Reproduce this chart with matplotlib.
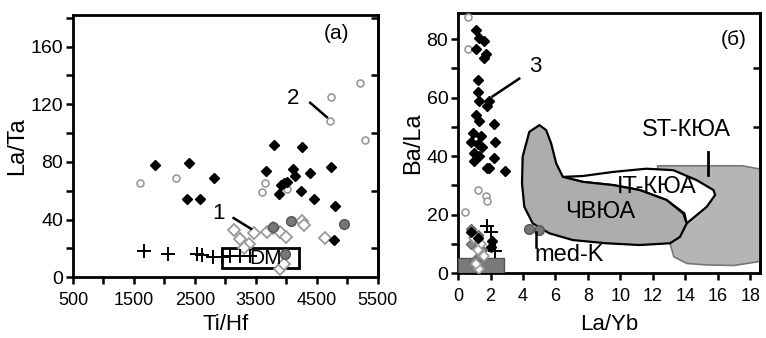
import matplotlib
matplotlib.use("Agg")
from matplotlib import pyplot as plt
from matplotlib.patches import Polygon, Rectangle
from matplotlib.ticker import MultipleLocator

plt.rcParams['font.family'] = ['Liberation Sans', 'DejaVu Sans']

## (a) Ti/Hf - La/Ta
a_black_x = [1850, 2396, 2369, 2587, 2806, 3669, 3789, 4254, 4735, 4106, 4144, 4379, 3953, 3909, 4008, 3871, 4237, 4445, 4800, 4773]
a_black_y = [78, 79.5, 54.5, 54.5, 69, 74, 92, 90, 76.5, 75, 70, 72, 65, 64, 66, 58, 60, 54.5, 49.4, 25.5]
a_gray_x = [3778, 4079, 4937, 3970]
a_gray_y = [35, 38.7, 37, 16]
a_open_x = [3134, 3243, 3462, 3380, 3680, 3899, 3997, 4254, 4281, 4636, 3888, 3953, 3300, 3780]
a_open_y = [32.5, 26.7, 30.6, 23, 31, 31, 28, 39, 36, 27, 5.8, 9, 20, 34]
a_small_x = [1604, 2194, 3653, 3598, 4008, 4735, 4708, 5199, 5292]
a_small_y = [65, 69, 65, 59, 61, 125, 108.5, 135, 95]
a_cross_x = [1669, 2057, 2533, 2615, 2790, 2943, 3079, 3243, 3407]
a_cross_y = [18, 15.8, 15.8, 15.5, 14, 14, 14.5, 14.4, 15]
a_xticks = [500, 1500, 2500, 3500, 4500, 5500]
dm_box = (2942, 6.5, 4210, 20.4)

## (б) La/Yb - Ba/La
b_black_x = [1.1, 1.3, 1.6, 1.1, 1.7, 1.6, 1.2, 1.2, 1.3, 1.9, 1.8, 1.1, 1.3, 2.2, 0.9, 1.4, 2.3, 0.8,
             1.2, 1.5, 1.0, 1.3, 2.2, 1.0, 1.8, 1.9, 2.9, 1.2, 2.1, 2.0, 0.8]
b_black_y = [83, 80.5, 79.5, 76.5, 75, 73.5, 66, 62, 59, 59, 57, 54, 52, 51, 48, 47, 45, 45,
             44, 43, 41, 40, 39.5, 38.5, 36, 36, 35, 12, 11, 9, 14]
b_small_x = [0.6, 0.6, 1.2, 1.7, 1.8, 0.45]
b_small_y = [87.7, 76.6, 28.5, 26.2, 24.7, 21]
b_gray_x = [0.8, 1.2, 0.8, 1.5, 1.3, 1.0]
b_gray_y = [15, 13, 10, 8, 6, 4]
b_open_x = [1.0, 1.4, 1.2, 1.6, 1.3, 1.1]
b_open_y = [12, 10, 8, 6, 1.5, 3]
b_cross_x = [1.8, 2.0, 2.3]
b_cross_y = [16, 14, 7.4]
b_circ_x = [4.35, 4.97]
b_circ_y = [15, 14.6]
low_box = (0, 0, 2.85, 5)

st_kyoa = [(12.3, 36.7), (17.5, 36.7), (19.2, 35), (19.5, 20), (19.2, 4.5), (17, 2.6), (15.3, 2.8),
           (14.1, 3.3), (13.3, 5.6), (13.06, 10.2), (12.3, 20)]
it_kyoa = [(6.46, 32.9), (7.69, 33.2), (9.55, 34.6), (11.6, 35.7), (13.26, 35.2), (14.7, 31.8),
           (15.74, 28.4), (15.84, 26.7), (15.33, 22.7), (14.7, 19.8), (14.09, 17),
           (13.95, 20.4), (12.85, 25), (11.2, 28.4), (9.55, 30.1), (7.69, 31.2)]
chvyua = [(3.98, 39.8), (4.39, 48.3), (5.01, 50.6), (5.43, 48.9), (5.74, 44.3), (6.05, 37.5),
          (6.46, 32.9), (7.69, 31.2), (9.55, 30.1), (11.2, 28.4), (12.85, 25), (13.88, 20.4),
          (14.09, 17), (13.68, 12.4), (13.06, 10.2), (11.2, 9.6), (9.14, 10.2), (7.07, 11.3),
          (5.63, 13.6), (4.6, 17), (4.08, 22.7), (3.94, 30.7)]

fig = plt.figure(figsize=(7.66, 3.38), dpi=100)
ax1 = fig.add_axes([0.0953, 0.180, 0.398, 0.776])
ax2 = fig.add_axes([0.598, 0.192, 0.394, 0.770])

for ax in (ax1, ax2):
    for s in ax.spines.values():
        s.set_linewidth(2)
    ax.tick_params(axis='both', which='both', direction='out', width=1.8, length=5, top=False)
    ax.tick_params(axis='y', labelsize=14, pad=2)
    ax.tick_params(axis='x', labelsize=13, pad=6)

# (a)
ax1.plot(a_small_x, a_small_y, 'o', ms=5, mfc='white', mec='#999999', mew=1.2)
ax1.plot(a_open_x, a_open_y, 'D', ms=6, mfc='white', mec='#999999', mew=1.3)
ax1.plot(a_black_x, a_black_y, 'D', ms=5.5, color='black')
ax1.plot(a_gray_x, a_gray_y, 'o', ms=7, mfc='#777777', mec='#555555')
ax1.plot(a_cross_x, a_cross_y, '+', ms=10, mew=1.4, color='black')
ax1.add_patch(Rectangle((dm_box[0], dm_box[1]), dm_box[2] - dm_box[0], dm_box[3] - dm_box[1],
                        fill=False, lw=2, ec='black'))
ax1.text(3653, 12.7, 'DM', fontsize=15, ha='center', va='center')
ax1.text(2888, 44, '1', fontsize=16, ha='center', va='center')
ax1.plot([3134, 3418], [41, 33.6], color='black', lw=1.8)
ax1.text(4117, 124, '2', fontsize=16, ha='center', va='center')
ax1.plot([4390, 4664], [121, 111], color='black', lw=1.8)
ax1.text(4828, 169, '(a)', fontsize=15, ha='center', va='center')
ax1.set_xlim(500, 5500)
ax1.set_ylim(0, 182)
ax1.set_xticks(a_xticks)
ax1.xaxis.set_minor_locator(MultipleLocator(500))
ax1.yaxis.set_major_locator(MultipleLocator(40))
ax1.yaxis.set_minor_locator(MultipleLocator(20))
ax1.set_xlabel('Ti/Hf', fontsize=16, labelpad=3)
ax1.set_ylabel('La/Ta', fontsize=17, labelpad=2)

# (б)
ax2.add_patch(Polygon(st_kyoa, closed=True, fc='#b5b5b5', ec='#777777', lw=1.2, zorder=1))
ax2.add_patch(Polygon(it_kyoa, closed=True, fc='white', ec='black', lw=1.6, zorder=2))
ax2.add_patch(Polygon(chvyua, closed=True, fc='#adadad', ec='black', lw=1.6, zorder=3))
ax2.add_patch(Rectangle((low_box[0], low_box[1]), low_box[2], low_box[3], fc='#7a7a7a',
                        ec='#555555', lw=1, zorder=3))
ax2.plot(b_small_x, b_small_y, 'o', ms=5, mfc='white', mec='#999999', mew=1.2, zorder=4)
ax2.plot(b_gray_x, b_gray_y, 'D', ms=5.5, mfc='#888888', mec='#666666', zorder=4)
ax2.plot(b_open_x, b_open_y, 'D', ms=5.5, mfc='white', mec='#999999', mew=1.2, zorder=4)
ax2.plot(b_black_x, b_black_y, 'D', ms=5.5, color='black', zorder=5)
ax2.plot(b_cross_x, b_cross_y, '+', ms=10, mew=1.4, color='black', zorder=5)
ax2.plot(b_circ_x, b_circ_y, 'o', ms=7, mfc='#777777', mec='#555555', zorder=5)
ax2.text(14.09, 49, 'ST-КЮА', fontsize=17, ha='center', va='center', zorder=6)
ax2.plot([15.43, 15.43], [41.5, 33.5], color='black', lw=2, zorder=6)
ax2.text(12.23, 29.3, 'IT-КЮА', fontsize=17, ha='center', va='center', zorder=6)
ax2.text(8.73, 21, 'ЧВЮА', fontsize=17, ha='center', va='center', zorder=6)
ax2.text(6.87, 6.2, 'med-K', fontsize=17, ha='center', va='center', zorder=6)
ax2.plot([4.81, 4.81], [14.1, 9], color='black', lw=1.8, zorder=6)
ax2.text(4.77, 70.5, '3', fontsize=16, ha='center', va='center', zorder=6)
ax2.plot([3.77, 2.12], [66.5, 60.4], color='black', lw=1.8, zorder=6)
ax2.text(16.97, 79.9, '(б)', fontsize=15, ha='center', va='center', zorder=6)
ax2.set_xlim(0, 18.6)
ax2.set_ylim(0, 89)
ax2.xaxis.set_major_locator(MultipleLocator(2))
ax2.yaxis.set_major_locator(MultipleLocator(20))
ax2.yaxis.set_minor_locator(MultipleLocator(10))
ax2.set_xlabel('La/Yb', fontsize=16, labelpad=6)
ax2.set_ylabel('Ba/La', fontsize=17, labelpad=2)

for ax in (ax1, ax2):
    ax.tick_params(axis='y', which='both', direction='out', left=True, right=False)
    sec = ax.secondary_yaxis('right')
    sec.set_yticks(ax.get_yticks(minor=True), minor=False)
    sec.tick_params(direction='in', length=5, width=1.8, labelright=False)
    sec.spines['right'].set_linewidth(2)

fig.savefig('out.png', dpi=100)
